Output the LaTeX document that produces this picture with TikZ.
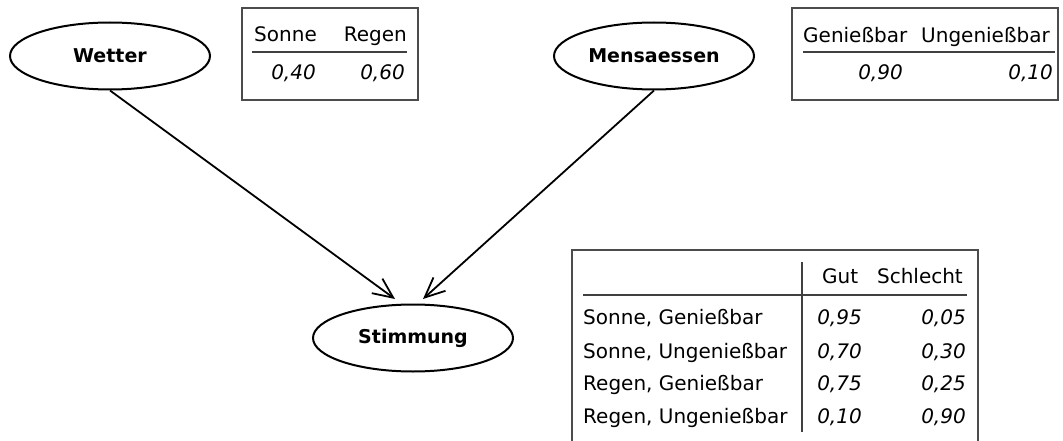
\documentclass[tikz,border=0pt]{standalone}
\usepackage{fontspec}
\setmainfont{DejaVu Sans}
\usetikzlibrary{shapes.geometric,arrows.meta}
\begin{document}
\begin{tikzpicture}[x=1pt,y=-1pt,
  var/.style={ellipse,draw,line width=2pt,minimum width=200pt,minimum height=67pt,inner sep=0pt,font=\fontsize{19}{22}\selectfont\bfseries},
  txt/.style={inner sep=0pt,font=\fontsize{20}{24}\selectfont},
  num/.style={txt,font=\fontsize{20}{24}\selectfont\itshape},
  tbox/.style={draw=black!70,line width=1.6pt},
  rule/.style={draw=black!75,line width=1.4pt},
  edge/.style={line width=1.8pt,-{Straight Barb[length=20pt,width=18pt,line width=1.8pt]}}]
\useasboundingbox (0,0) rectangle (1063,441);
% nodes
\node[var] (wetter) at (110,56) {Wetter};
\node[var] (mensa) at (654,56) {Mensaessen};
\node[var] (stimmung) at (413,338) {Stimmung};
\coordinate (tipA) at (395,299);
\coordinate (tipB) at (423,299);
\draw[edge] (wetter.south) -- (tipA);
\draw[edge] (mensa.south) -- (tipB);
% table 1
\draw[tbox] (242,8) rectangle (418,100);
\node[txt,anchor=base west] (t1a) at (254,42) {Sonne};
\node[txt,anchor=base east] (t1b) at (407,42) {Regen};
\draw[rule] (252,52) -- (407,52);
\node[num,anchor=base east] (t1c) at (316,80) {0,40};
\node[num,anchor=base east] (t1d) at (405,80) {0,60};
% table 2
\draw[tbox] (792,8) rectangle (1058,100);
\node[txt,anchor=base west] (t2a) at (803,43) {Genießbar};
\node[txt,anchor=base east] (t2b) at (1050,43) {Ungenießbar};
\draw[rule] (803,52) -- (1055,52);
\node[num,anchor=base east] (t2c) at (903,80) {0,90};
\node[num,anchor=base east] (t2d) at (1053,80) {0,10};
% table 3
\draw[tbox] (572,441) -- (572,250) -- (978,250) -- (978,441);
\draw[rule] (802,262) -- (802,432);
\draw[rule] (583,295) -- (967,295);
\node[txt,anchor=base west] (h1) at (822,283) {Gut};
\node[txt,anchor=base east] (h2) at (963,283) {Schlecht};
\node[txt,anchor=base west] (r1) at (583,324) {Sonne, Genießbar};
\node[num,anchor=base east] (r1a) at (862,324) {0,95};
\node[num,anchor=base east] (r1b) at (966,324) {0,05};
\node[txt,anchor=base west] (r2) at (583,358) {Sonne, Ungenießbar};
\node[num,anchor=base east] (r2a) at (862,358) {0,70};
\node[num,anchor=base east] (r2b) at (966,358) {0,30};
\node[txt,anchor=base west] (r3) at (583,390) {Regen, Genießbar};
\node[num,anchor=base east] (r3a) at (862,390) {0,75};
\node[num,anchor=base east] (r3b) at (966,390) {0,25};
\node[txt,anchor=base west] (r4) at (583,423) {Regen, Ungenießbar};
\node[num,anchor=base east] (r4a) at (862,423) {0,10};
\node[num,anchor=base east] (r4b) at (966,423) {0,90};
\end{tikzpicture}
\end{document}
